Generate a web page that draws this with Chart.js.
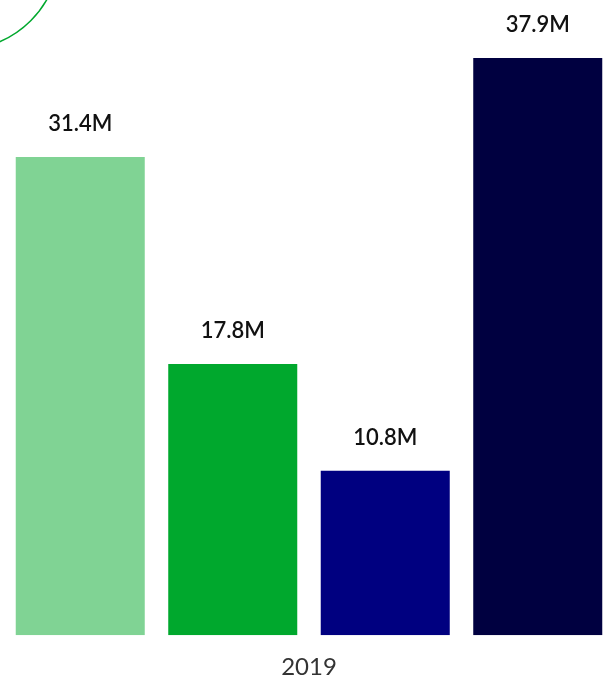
<!DOCTYPE html>
<html><head><meta charset="utf-8">
<script src="https://cdn.jsdelivr.net/npm/chart.js@4"></script>
<style>html,body{margin:0;padding:0;background:#fff}#w{width:614px;height:692px}</style>
</head><body><div id="w"><canvas id="c"></canvas></div>
<script>
const categories = ["2019"];
const seriesNames = ["A","B","C","D"];
const seriesValues = [31.4, 17.8, 10.8, 37.9];
const valueLabels = ["31.4M","17.8M","10.8M","37.9M"];
const colors = ["#80d394","#00a82d","#000080","#000040"];

const labelPlugin = {
  id:'labels',
  afterDatasetsDraw(chart){
    const ctx = chart.ctx;
    ctx.save();
    ctx.strokeStyle='#00a82d'; ctx.lineWidth=1.5;
    ctx.beginPath(); ctx.arc(-40,-50,100,0,Math.PI); ctx.stroke();
    ctx.fillStyle='#111'; ctx.font='600 22px Lato, "Open Sans", sans-serif';
    ctx.textAlign='center'; ctx.textBaseline='bottom';
    chart.data.datasets.forEach((ds,i)=>{
      const el = chart.getDatasetMeta(i).data[0];
      ctx.fillText(valueLabels[i], el.x, el.y-22);
    });
    ctx.restore();
  }
};

new Chart(document.getElementById('c'),{
  type:'bar',
  data:{labels:categories,datasets:seriesValues.map((v,i)=>({label:seriesNames[i],data:[v],backgroundColor:colors[i],barPercentage:0.846,categoryPercentage:1}))},
  options:{responsive:true,maintainAspectRatio:false,animation:false,
    layout:{padding:{left:4,right:0,top:0,bottom:0}},
    plugins:{legend:{display:false},tooltip:{enabled:false}},
    scales:{
      y:{display:false,min:0,max:41.7},
      x:{grid:{display:false},border:{display:false},ticks:{color:'#333',font:{size:24,family:'Lato, "Open Sans", sans-serif'},padding:10}}
    }},
  plugins:[labelPlugin]
});
</script></body></html>
